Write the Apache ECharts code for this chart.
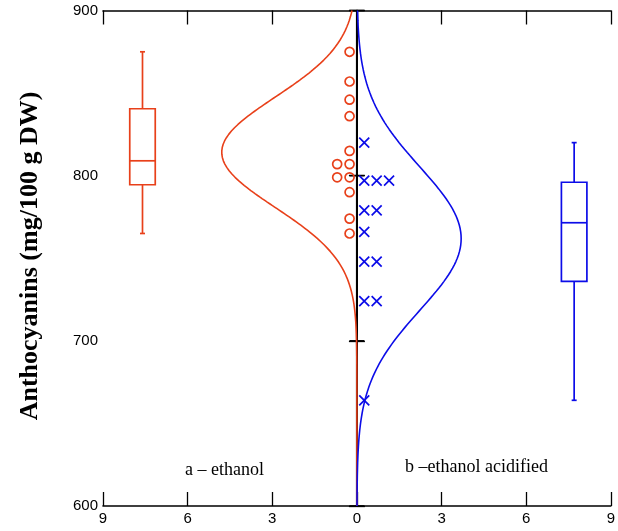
<!DOCTYPE html>
<html><head><meta charset="utf-8">
<script src="https://cdn.jsdelivr.net/npm/echarts@6/dist/echarts.min.js"></script>
<style>html,body{margin:0;padding:0;background:#fff}#c{width:618px;height:531px}</style>
</head><body><div id="c"></div>
<script>
// ---- data ----
const xTickValues = [-9, -6, -3, 0, 3, 6, 9];
const yTickValues = [600, 700, 800, 900];
const ethanol   = [875, 857, 846, 836, 815, 807, 807, 799, 799, 790, 774, 765];
const acidified = [820, 797, 797, 797, 779, 779, 766, 748, 748, 724, 724, 664];
// box stats: [min, Q1, median, Q3, max]
const ethanolBox   = [765, 794.5, 809, 840.5, 875];
const acidifiedBox = [664, 736, 771.5, 796, 820];
const groupLabels = ['a \u2013 ethanol', 'b \u2013ethanol acidified'];
const yTitle = 'Anthocyanins (mg/100 g DW)';

// ---- layout / style constants ----
const RED = '#e8401a', BLUE = '#0c0ce8';
const DENSITY_SCALE = 400;
const BOX_X_LEFT = -7.6, BOX_X_RIGHT = 7.7;
const DOT_START = 0.26, DOT_STEP = 0.44;

function stats(a){
  const m = a.reduce((s,v)=>s+v,0)/a.length;
  const sd = Math.sqrt(a.reduce((s,v)=>s+(v-m)*(v-m),0)/(a.length-1));
  return {m, sd};
}
function densityCurve(a, sign){
  const {m, sd} = stats(a);
  const pts = [];
  for (let y = 600; y <= 900; y += 1){
    const pdf = Math.exp(-0.5*((y-m)/sd)**2)/(sd*Math.sqrt(2*Math.PI));
    pts.push([sign*DENSITY_SCALE*pdf, y]);
  }
  return pts;
}
function dotPositions(a, sign){
  return a.map((v,i)=>{
    let k = 0; for (let j=0;j<i;j++) if (a[j]===v) k++;
    return [sign*(DOT_START + DOT_STEP*k), v];
  });
}
function boxRender(params, api){
  const xc = api.value(0);
  const mn = api.coord([xc, api.value(1)]);
  const q1 = api.coord([xc, api.value(2)]);
  const md = api.coord([xc, api.value(3)]);
  const q3 = api.coord([xc, api.value(4)]);
  const mx = api.coord([xc, api.value(5)]);
  const col = api.visual('color');
  const hw = 12.75, cw = 2.5, x = md[0];
  const st = {stroke: col, lineWidth: 1.7, fill: null};
  return {type:'group', children:[
    {type:'rect', shape:{x:x-hw, y:q3[1], width:2*hw, height:q1[1]-q3[1]}, style:st},
    {type:'line', shape:{x1:x-hw, y1:md[1], x2:x+hw, y2:md[1]}, style:st},
    {type:'line', shape:{x1:x, y1:q3[1], x2:x, y2:mx[1]}, style:st},
    {type:'line', shape:{x1:x, y1:q1[1], x2:x, y2:mn[1]}, style:st},
    {type:'line', shape:{x1:x-cw, y1:mx[1], x2:x+cw, y2:mx[1]}, style:st},
    {type:'line', shape:{x1:x-cw, y1:mn[1], x2:x+cw, y2:mn[1]}, style:st}
  ]};
}

const labelFont = {fontFamily:'Liberation Sans', fontSize:15, color:'#000'};
const axisLineStyle = {lineStyle:{color:'#000', width:1.6}};

const chart = echarts.init(document.getElementById('c'), null, {renderer:'canvas'});
chart.setOption({
  animation:false,
  backgroundColor:'#fff',
  grid:{left:103, right:5, top:10.5, bottom:25},
  xAxis:[
    {type:'value', min:-9, max:9, interval:3, position:'bottom',
     axisLine:axisLineStyle, splitLine:{show:false},
     axisTick:{inside:true, length:14, lineStyle:{color:'#000', width:1.3}},
     axisLabel:Object.assign({margin:5, formatter:v=>String(Math.abs(v))}, labelFont)},
    {type:'value', min:-9, max:9, interval:3, position:'top',
     axisLine:axisLineStyle, splitLine:{show:false},
     axisTick:{inside:true, length:14, lineStyle:{color:'#000', width:1.3}},
     axisLabel:{show:false}}
  ],
  yAxis:[
    {type:'value', min:600, max:900, interval:100, position:'left',
     axisLine:axisLineStyle, splitLine:{show:false},
     axisTick:{inside:true, length:8, lineStyle:{color:'#000', width:1.3}},
     axisLabel:Object.assign({margin:5}, labelFont)},
    {type:'value', min:600, max:900, interval:100, position:'right',
     axisLine:axisLineStyle, splitLine:{show:false},
     axisTick:{inside:true, length:8, lineStyle:{color:'#000', width:1.3}},
     axisLabel:{show:false}}
  ],
  graphic:[
    {type:'text', x:30, y:256, rotation:Math.PI/2,
     style:{text:yTitle, font:'bold 26px "Liberation Serif"', fill:'#000', textAlign:'center', textVerticalAlign:'middle'}},
    {type:'text', left:185, top:461,
     style:{text:groupLabels[0], font:'18px "Liberation Serif"', fill:'#000'}},
    {type:'text', left:405, top:458,
     style:{text:groupLabels[1], font:'18px "Liberation Serif"', fill:'#000'}}
  ],
  series:[
    {type:'line', data:[[0,600],[0,900]], symbol:'none', z:1,
     lineStyle:{color:'#000', width:2}},
    {type:'scatter', data:yTickValues.map(v=>[0,v]), symbol:'rect', symbolSize:[15,1.6], z:1,
     itemStyle:{color:'#000', opacity:1}},
    {type:'line', data:densityCurve(ethanol,-1), symbol:'none', z:3,
     lineStyle:{color:RED, width:1.6}},
    {type:'line', data:densityCurve(acidified,1), symbol:'none', z:3,
     lineStyle:{color:BLUE, width:1.6}},
    {type:'scatter', data:dotPositions(ethanol,-1), symbol:'circle', symbolSize:9, z:4,
     itemStyle:{color:'rgba(0,0,0,0)', borderColor:RED, borderWidth:1.7, opacity:1}},
    {type:'scatter', data:dotPositions(acidified,1), symbol:'path://M0,0L10,10M10,0L0,10', symbolSize:10, z:4,
     itemStyle:{color:'rgba(0,0,0,0)', borderColor:BLUE, borderWidth:1.7, opacity:1}},
    {type:'custom', renderItem:boxRender, data:[[BOX_X_LEFT].concat(ethanolBox)], z:4,
     itemStyle:{color:RED}, encode:{x:0, y:[1,2,3,4,5]}},
    {type:'custom', renderItem:boxRender, data:[[BOX_X_RIGHT].concat(acidifiedBox)], z:4,
     itemStyle:{color:BLUE}, encode:{x:0, y:[1,2,3,4,5]}}
  ]
});
</script>
</body></html>
